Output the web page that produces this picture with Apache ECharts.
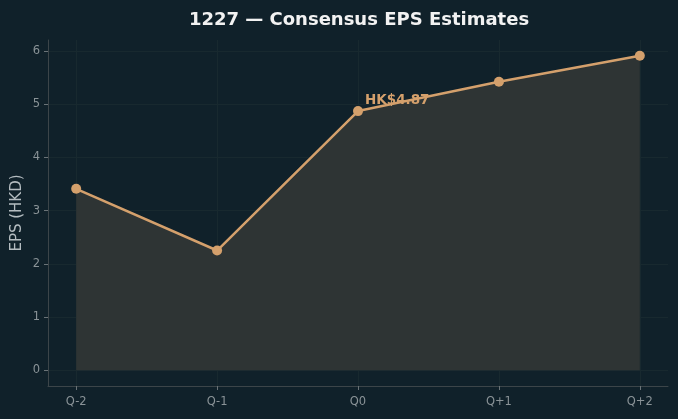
<!DOCTYPE html>
<html>
<head>
<meta charset="utf-8">
<style>
  html, body { margin: 0; padding: 0; background: #10212a; }
  #chart { width: 678px; height: 419px; }
</style>
<script src="https://cdn.jsdelivr.net/npm/echarts@6.0.0/dist/echarts.min.js"></script>
</head>
<body>
<div id="chart"></div>
<script>
const quarters = ["Q-2", "Q-1", "Q0", "Q+1", "Q+2"];
const epsValues = [3.41, 2.25, 4.87, 5.42, 5.91];
const yTicks = [0, 1, 2, 3, 4, 5, 6];
const highlightIndex = 2;

const chart = echarts.init(document.getElementById("chart"));
const gridColor = "#18292f";
const labelColor = "#8a9397";
const lineColor = "#d4a06c";

chart.setOption({
  backgroundColor: "#10212a",
  animation: false,
  title: {
    text: "1227 — Consensus EPS Estimates",
    left: 354,
    textAlign: "center",
    top: 6,
    textStyle: { color: "#f2f2f2", fontSize: 18, fontWeight: "bold", fontFamily: "DejaVu Sans" }
  },
  grid: { left: 48, right: 10, top: 40, bottom: 33, outerBoundsMode: "none", containLabel: false },
  xAxis: {
    type: "value",
    min: -0.2,
    max: quarters.length - 1 + 0.2,
    axisLine: { onZero: false, lineStyle: { color: "#3c4549" } },
    axisTick: { customValues: quarters.map((_, i) => i), length: 4, lineStyle: { color: "#6a7377" } },
    axisLabel: {
      customValues: quarters.map((_, i) => i),
      formatter: (v) => quarters[Math.round(v)],
      color: labelColor, fontSize: 11.5, fontFamily: "DejaVu Sans", margin: 10
    },
    splitLine: { show: true, lineStyle: { color: gridColor, width: 1 } }
  },
  yAxis: {
    type: "value",
    min: -0.296,
    max: 6.206,
    name: "EPS (HKD)",
    nameLocation: "middle",
    nameGap: 23,
    nameMoveOverlap: false,
    nameTextStyle: { color: "#b4bcc0", fontSize: 15, fontFamily: "DejaVu Sans" },
    axisLine: { show: true, onZero: false, lineStyle: { color: "#3c4549" } },
    axisTick: { show: true, customValues: yTicks, length: 4, lineStyle: { color: "#6a7377" } },
    axisLabel: { customValues: yTicks, color: labelColor, fontSize: 11.5, fontFamily: "DejaVu Sans", margin: 8 },
    splitLine: { show: true, lineStyle: { color: gridColor, width: 1 } }
  },
  series: [{
    type: "line",
    data: epsValues.map((v, i) => {
      const item = { value: [i, v] };
      if (i === highlightIndex) {
        item.label = {
          show: true,
          position: "right",
          offset: [-3, -11],
          formatter: "HK$" + v.toFixed(2),
          color: lineColor,
          fontSize: 13.5,
          fontWeight: "bold",
          fontFamily: "DejaVu Sans"
        };
      }
      return item;
    }),
    symbol: "circle",
    symbolSize: 10,
    itemStyle: { color: lineColor },
    lineStyle: { color: lineColor, width: 2.5 },
    areaStyle: { color: "#2e3434", opacity: 1, origin: 0 },
    z: 3
  }]
});
</script>
</body>
</html>
